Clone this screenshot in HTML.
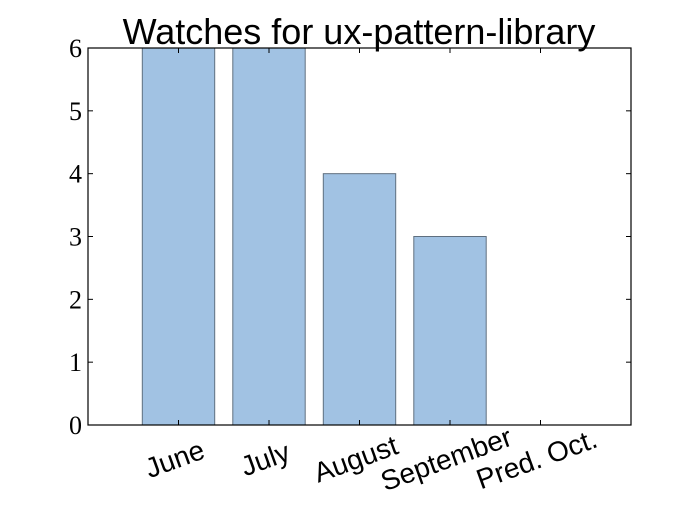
<!DOCTYPE html>
<html><head><meta charset="utf-8"><style>body{margin:0;background:#fff}</style></head>
<body>
<svg width="700" height="500" xmlns="http://www.w3.org/2000/svg">
<rect width="700" height="500" fill="#fff"/>
<text x="359" y="44" font-family="Liberation Sans, sans-serif" font-size="36" text-anchor="middle">Watches for ux-pattern-library</text>
<g id="plot"></g>
<rect x="88" y="48" width="543" height="377" fill="none" stroke="#000" stroke-width="1.2"/>
</svg>
<script>
const categories = ["June","July","August","September","Pred. Oct."];
const values = [6, 6, 4, 3, 0];
const yTicks = [0,1,2,3,4,5,6];
const L=88,R=631,T=48,B=425,yMax=6;
const slot=(R-L)/6;
const x=i=>L+(i+1)*slot;
const y=v=>B-(v/yMax)*(B-T);
const g=document.getElementById('plot');
const NS='http://www.w3.org/2000/svg';
function mk(t,a){const e=document.createElementNS(NS,t);for(const k in a)e.setAttribute(k,a[k]);g.appendChild(e);return e;}
const bw=slot*0.8;
values.forEach((v,i)=>{
  if(v>0){
  const r=mk('rect',{x:x(i)-bw/2,y:y(v),width:bw,height:B-y(v),fill:'#a1c2e3',stroke:'#5f6f7f','stroke-width':1});
  
  
  }
  const cx=x(i)-3, cy=461;
  const t=mk('text',{x:cx,y:cy,'font-family':'Liberation Sans, sans-serif','font-size':28,'text-anchor':'middle','dominant-baseline':'middle',transform:`rotate(-20 ${cx} ${cy})`});
  t.textContent=categories[i];
  
  
  mk('line',{x1:x(i),x2:x(i),y1:B,y2:B-5,stroke:'#000'});
  mk('line',{x1:x(i),x2:x(i),y1:T,y2:T+5,stroke:'#000'});
});
yTicks.forEach(v=>{
  const yy=y(v);
  mk('line',{x1:L,x2:L+5,y1:yy,y2:yy,stroke:'#000'});
  mk('line',{x1:R,x2:R-5,y1:yy,y2:yy,stroke:'#000'});
  const t=mk('text',{x:L-6,y:yy+9,'font-family':'Liberation Serif, serif','font-size':26,'text-anchor':'end'});
  t.textContent=v;
  
  
});
</script>
</body></html>
